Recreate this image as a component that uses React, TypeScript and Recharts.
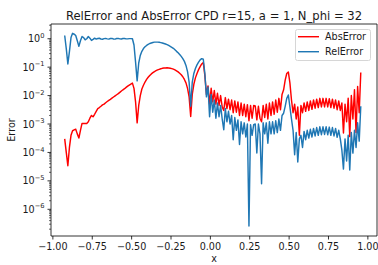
import React from "react";
import { Legend, Line, LineChart, ReferenceLine, XAxis, YAxis } from "recharts";

const FONT = "DejaVu Sans, sans-serif";
const TEXT = "#1a1a1a";

// sample grid of the curves
const X_START = -0.925;
const X_STEP = 0.01;

const absError = [
  3e-4, 1e-4, 3.4e-5, 1.5e-4, 4e-4, 5.8e-4, 6.2e-4, 6.6e-4, 4.5e-4, 3.2e-4,
  6e-4, 1.05e-3, 1.05e-3, 1.05e-3, 1.05e-3, 1.2e-3, 1.6e-3, 2e-3, 1.8e-3, 2.2e-3,
  2.8e-3, 3.5e-3, 3.8e-3, 4.2e-3, 4.7e-3, 5e-3, 5.6e-3, 6.2e-3, 6.8e-3, 7.4e-3,
  8.1e-3, 8.9e-3, 9.8e-3, 1.07e-2, 1.17e-2, 1.3e-2, 1.45e-2, 1.6e-2, 1.75e-2, 1.95e-2,
  2.15e-2, 2.35e-2, 2.55e-2, 2.75e-2, 1.8e-2, 6e-3, 1.1e-3, 4.5e-3, 1e-2, 1.7e-2,
  2.3e-2, 3e-2, 3.7e-2, 4.4e-2, 5.1e-2, 5.8e-2, 6.4e-2, 7e-2, 7.5e-2, 8e-2,
  8.4e-2, 8.8e-2, 9.1e-2, 9.3e-2, 9.4e-2, 9.5e-2, 9.4e-2, 9.2e-2, 8.9e-2, 8.5e-2,
  8e-2, 7.4e-2, 6.8e-2, 6.1e-2, 5.4e-2, 4.6e-2, 3.7e-2, 2.8e-2, 1.8e-2, 9e-3,
  1.85e-3, 1.1e-2, 2.5e-2, 4.2e-2, 6e-2, 8.2e-2, 0.105, 0.13, 0.145,
  0.05, 0.011, 0.022, 5e-3, 0.018, 6e-3, 0.015, 5e-3, 0.012, 4.5e-3, 0.01,
  4e-3, 3e-3, 8.5e-3, 3.5e-3, 7.5e-3, 3.2e-3, 7e-3, 2.5e-3, 6.5e-3, 2.6e-3,
  6e-3, 2e-3, 5.5e-3, 2e-3, 5e-3, 1.8e-3, 4.8e-3, 1.3e-3, 4.5e-3, 1.6e-3,
  4.5e-3, 4.3e-3, 1.4e-3, 4.2e-3, 1.6e-3, 1.2e-3, 4.5e-3, 1.7e-3, 5e-3, 1.5e-3,
  5.5e-3, 2e-3, 6e-3, 2.2e-3, 7e-3, 2.6e-3, 8e-3, 3.2e-3, 0.011, 0.016,
  0.035, 0.06, 0.068, 0.028, 7e-3, 2.5e-3, 5e-3, 1.5e-3, 4e-3, 4e-4,
  4.5e-3, 2.5e-3, 5.5e-3, 2.8e-3, 6e-3, 3e-3, 6.5e-3, 3.3e-3, 7e-3, 3.6e-3,
  7.5e-3, 3.8e-3, 8e-3, 4e-3, 8e-3, 4e-3, 8e-3, 4e-3, 7.8e-3, 3.8e-3,
  7.5e-3, 3.6e-3, 7e-3, 3.2e-3, 6.5e-3, 3e-3, 5.5e-3, 4.8e-4, 5e-3, 1.2e-3,
  8e-3, 3.6e-4, 0.01, 1.5e-3, 0.016, 5e-4, 0.021, 2.5e-3, 0.065,
];

const relError = [
  1.3, 0.45, 0.13, 0.35, 1.1, 1.55, 1.45, 1.3, 0.85, 0.54,
  0.85, 1.2, 1.1, 0.92, 1.0, 1.2, 1.05, 0.87, 0.95, 1.05,
  0.97, 1.02, 1.04, 0.98, 0.96, 1.01, 1.03, 0.99, 0.97, 1.02,
  1.03, 0.98, 0.97, 1.02, 1.03, 0.99, 0.98, 1.02, 1.02, 0.99,
  0.99, 1.01, 1.01, 1.0, 0.6, 0.15, 0.033, 0.14, 0.26, 0.36,
  0.45, 0.52, 0.58, 0.63, 0.68, 0.71, 0.74, 0.76, 0.76, 0.76,
  0.75, 0.73, 0.71, 0.68, 0.65, 0.62, 0.58, 0.54, 0.5, 0.46,
  0.41, 0.36, 0.32, 0.28, 0.24, 0.2, 0.16, 0.115, 0.07, 0.03,
  4.2e-3, 0.03, 0.06, 0.09, 0.12, 0.15, 0.18, 0.2, 0.19,
  0.06, 9e-3, 0.02, 1.8e-3, 0.011, 2.6e-3, 7e-3, 1.6e-3, 5.5e-3, 1.8e-3, 4.5e-3,
  1.5e-3, 6.3e-4, 3.5e-3, 1.2e-3, 2.8e-3, 1e-3, 2e-3, 2.8e-4, 1.7e-3, 6e-4,
  1.4e-3, 1.9e-4, 1.2e-3, 4.5e-4, 1.1e-3, 3.5e-4, 1e-3, 2.6e-7, 9.5e-4, 4e-4,
  9.5e-4, 1e-3, 9.5e-5, 1e-3, 4.5e-4, 7.9e-6, 1.1e-3, 4.5e-4, 1.1e-3, 2.1e-4,
  1.2e-3, 4.5e-4, 1.2e-3, 4.5e-4, 1.3e-3, 5e-4, 1.5e-3, 6e-4, 2e-3, 2.4e-3,
  4.2e-3, 8e-3, 0.0105, 4e-3, 1.5e-3, 6e-4, 8.3e-5, 5e-4, 4.6e-5, 3e-4,
  4e-4, 1.5e-4, 5.5e-4, 2.8e-4, 6e-4, 3.2e-4, 6.5e-4, 3.5e-4, 7e-4, 3.8e-4,
  7.5e-4, 4e-4, 8e-4, 4.2e-4, 8e-4, 4.3e-4, 8e-4, 4.2e-4, 7.8e-4, 4e-4,
  7.5e-4, 3.8e-4, 7e-4, 3.4e-4, 6e-4, 3e-4, 1.2e-4, 2.6e-5, 3e-4, 5e-5,
  4e-4, 2.4e-5, 5e-4, 9.5e-5, 6e-4, 1.5e-4, 1.1e-3, 2.5e-4, 4.2e-3,
];

const xTicks = [-1, -0.75, -0.5, -0.25, 0, 0.25, 0.5, 0.75, 1];
const yTicks = [1e-6, 1e-5, 1e-4, 1e-3, 1e-2, 1e-1, 1];

const X_DOMAIN: [number, number] = [-1.012, 1.058];
const Y_DOMAIN: [number, number] = [1.15e-7, 3.3];

// minor log ticks 2..9 x 10^k inside the domain
const yMinor: number[] = [];
for (let k = -7; k <= 0; k++) {
  for (let m = 2; m <= 9; m++) {
    const v = m * Math.pow(10, k);
    if (v > Y_DOMAIN[0] && v < Y_DOMAIN[1]) yMinor.push(v);
  }
}
const allYTicks = [...yTicks, ...yMinor].sort((a, b) => a - b);

const data = absError.map((a, i) => ({
  x: +(X_START + X_STEP * i).toFixed(3),
  abs: a,
  rel: relError[i],
}));

const series = [
  { key: "abs", name: "AbsError", color: "#ff0000" },
  { key: "rel", name: "RelError", color: "#1f77b4" },
];

const fmtX = (v: number) => v.toFixed(2).replace("-", "\u2212");

const YTick = (props: any) => {
  const { x, y, payload } = props;
  const lg = Math.log10(payload.value);
  const e = Math.round(lg);
  if (Math.abs(lg - e) > 1e-6) {
    return <line x1={x - 2} x2={x} y1={y} y2={y} stroke="#000" strokeWidth={0.6} />;
  }
  return (
    <g>
      <line x1={x - 3.5} x2={x} y1={y} y2={y} stroke="#000" strokeWidth={0.8} />
      <text x={x - 6.5} y={y + 3.5} textAnchor="end" fontSize={9.6} fontFamily={FONT} fill={TEXT}>
        10
        <tspan dy={-4.3} fontSize={6.7}>
          {String(e).replace("-", "\u2212")}
        </tspan>
      </text>
    </g>
  );
};

const LegendBox = () => (
  <svg width={76} height={32} style={{ display: "block" }}>
    <rect x={0.5} y={0.5} width={75} height={31} rx={2} fill="rgba(255,255,255,0.8)" stroke="#d6d6d6" />
    {series.map((s, i) => (
      <g key={s.key}>
        <line x1={3} x2={24} y1={7.7 + i * 15} y2={7.7 + i * 15} stroke={s.color} strokeWidth={1.45} />
        <text x={30} y={11.2 + i * 15} fontSize={9.6} fontFamily={FONT} fill={TEXT}>
          {s.name}
        </text>
      </g>
    ))}
  </svg>
);

export default function App() {
  return (
    <div style={{ position: "absolute", left: 0, top: 0, width: 378, height: 265, background: "#fff" }}>
      <LineChart width={378} height={265} data={data} margin={{ top: 24, right: 1, bottom: 0, left: 0 }}>
        <XAxis
          dataKey="x"
          type="number"
          domain={X_DOMAIN}
          allowDataOverflow
          ticks={xTicks}
          interval={0}
          height={29}
          tickSize={3.5}
          tickMargin={3.5}
          tickFormatter={fmtX}
          tick={{ fontSize: 9.6, fill: TEXT, fontFamily: FONT }}
          axisLine={{ stroke: "#000", strokeWidth: 0.8 }}
          tickLine={{ stroke: "#000", strokeWidth: 0.8 }}
        />
        <YAxis
          scale="log"
          type="number"
          domain={Y_DOMAIN}
          allowDataOverflow
          ticks={allYTicks}
          interval={0}
          width={51}
          tickSize={0}
          tickMargin={0}
          tickLine={false}
          tick={(p: any) => <YTick {...p} />}
          axisLine={{ stroke: "#000", strokeWidth: 0.8 }}
        />
        {/* top and right spines */}
        <ReferenceLine y={Y_DOMAIN[1]} stroke="#000" strokeWidth={0.8} ifOverflow="visible" />
        <ReferenceLine x={X_DOMAIN[1]} stroke="#000" strokeWidth={0.8} ifOverflow="visible" />
        {series.map((s) => (
          <Line
            key={s.key}
            type="linear"
            dataKey={s.key}
            name={s.name}
            stroke={s.color}
            strokeWidth={1.45}
            strokeLinejoin="round"
            dot={false}
            activeDot={false}
            isAnimationActive={false}
          />
        ))}
        <Legend
          layout="horizontal"
          align="center"
          verticalAlign="middle"
          wrapperStyle={{ left: 295, top: 29, width: 76, height: 32 }}
          content={LegendBox}
        />
      </LineChart>
      <svg width={378} height={265} style={{ position: "absolute", left: 0, top: 0, pointerEvents: "none" }}>
        <text x={214} y={19.5} textAnchor="middle" fontSize={11.6} fontFamily={FONT} fill={TEXT}>
          RelError and AbsError CPD r=15, a = 1, N_phi = 32
        </text>
        <text x={214} y={261.5} textAnchor="middle" fontSize={9.6} fontFamily={FONT} fill={TEXT}>
          x
        </text>
        <text transform="translate(15,130) rotate(-90)" textAnchor="middle" fontSize={9.6} fontFamily={FONT} fill={TEXT}>
          Error
        </text>
      </svg>
    </div>
  );
}
